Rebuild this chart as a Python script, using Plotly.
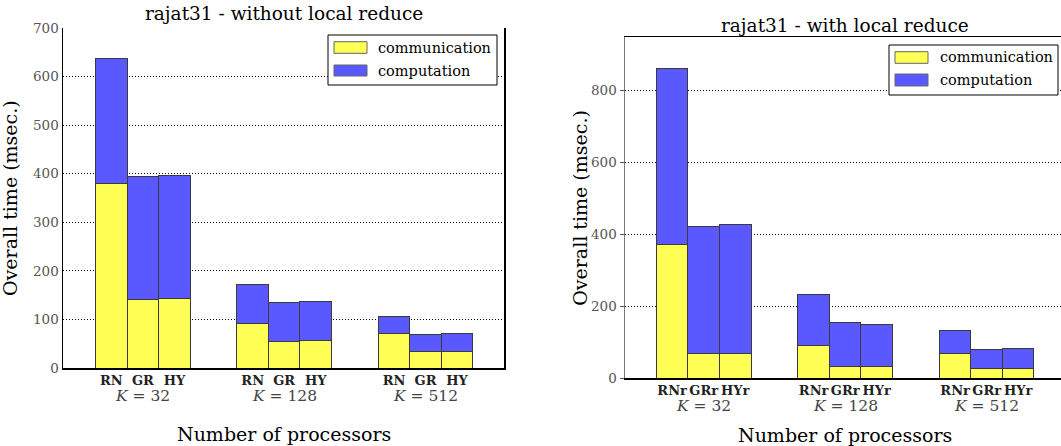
import plotly.graph_objects as go

W, H = 1061, 446

# ---------------- data ----------------
group_labels = ["32", "128", "512"]
methods_left = ["RN", "GR", "HY"]
methods_right = ["RNr", "GRr", "HYr"]

# rows: K = 32, 128, 512 ; columns: RN, GR, HY
comm_left = [[380, 141, 144], [92, 54, 56], [71, 34, 34]]
comp_left = [[257, 254, 253], [79, 81, 81], [35, 36, 37]]

comm_right = [[373, 68, 68], [90, 33, 33], [70, 26, 26]]
comp_right = [[489, 354, 360], [144, 123, 117], [63, 55, 57]]

series_names = ["communication", "computation"]
title_left = "rajat31 - without local reduce"
title_right = "rajat31 - with local reduce"
y_title = "Overall time (msec.)"
x_title = "Number of processors"

# ---------------- style ----------------
YELLOW = "#ffff55"
BLUE = "#5959ff"
EDGE = "#3a3a3a"
FONT = "DejaVu Serif"
BW = 0.223
GRID_DASH = "1px,2px"


def px_x(x):
    return x / W


def px_y(y):
    return 1 - y / H


fig = go.Figure()


def add_panel(comm, comp, methods, xa, ya):
    xs, ticktext, cm, cp = [], [], [], []
    for gi in range(len(comm)):
        for mj in range(len(methods)):
            xs.append(gi + BW * (mj + 0.5))
            ticktext.append(methods[mj])
            cm.append(comm[gi][mj])
            cp.append(comp[gi][mj])
    fig.add_trace(go.Bar(x=xs, y=cm, width=BW, name=series_names[0],
                         marker=dict(color=YELLOW, line=dict(color=EDGE, width=1)),
                         xaxis=xa, yaxis=ya, showlegend=False, hoverinfo="skip"))
    fig.add_trace(go.Bar(x=xs, y=cp, width=BW, name=series_names[1],
                         marker=dict(color=BLUE, line=dict(color=EDGE, width=1)),
                         xaxis=xa, yaxis=ya, showlegend=False, hoverinfo="skip"))
    return xs, ticktext


xs_l, tt_l = add_panel(comm_left, comp_left, methods_left, "x", "y")
xs_r, tt_r = add_panel(comm_right, comp_right, methods_right, "x2", "y2")

# panel geometry (pixels)
L = dict(x0=63, x1=504, y0=28, y1=368)
R = dict(x0=625, x1=1061, y0=37.3, y1=378.3)

tickfont_x = dict(family=FONT, size=13, color="#222")
tickfont_y = dict(family=FONT, size=13.5, color="#555")

fig.update_layout(
    width=W, height=H, barmode="stack", bargap=0, hovermode=False,
    margin=dict(l=0, r=0, t=0, b=0, autoexpand=False),
    paper_bgcolor="white", plot_bgcolor="white",
    xaxis=dict(domain=[px_x(L["x0"]), px_x(L["x1"])], range=[-0.231, 2.890],
               tickvals=xs_l, ticktext=["<b>%s</b>" % t for t in tt_l], tickangle=0,
               tickfont=tickfont_x, ticks="", showgrid=False, zeroline=False,
               showline=True, linecolor="black", linewidth=1.5, anchor="y",
               automargin=False, ticklabelstandoff=0),
    yaxis=dict(domain=[px_y(L["y1"]), px_y(L["y0"])], range=[0, 700], dtick=100,
               tickfont=tickfont_y, ticks="", showgrid=True, gridcolor="black",
               griddash=GRID_DASH, gridwidth=1, zeroline=False,
               showline=True, linecolor="black", linewidth=1.5, mirror=True, anchor="x",
               automargin=False, ticklabelstandoff=0),
    xaxis2=dict(domain=[px_x(R["x0"]), 1.0], range=[-0.2215, 2.860],
                tickvals=xs_r, ticktext=["<b>%s</b>" % t for t in tt_r], tickangle=0,
                tickfont=tickfont_x, ticks="", showgrid=False, zeroline=False,
                showline=True, linecolor="black", linewidth=1.5, mirror=True, anchor="y2",
                automargin=False, ticklabelstandoff=0),
    yaxis2=dict(domain=[px_y(R["y1"]), px_y(R["y0"])], range=[0, 948.5],
                tickvals=[0, 200, 400, 600, 800],
                tickfont=tickfont_y, ticks="outside", ticklen=4, tickcolor="#555",
                showgrid=True, gridcolor="black", griddash=GRID_DASH, gridwidth=1,
                zeroline=False, showline=True, linecolor="#777", linewidth=1.5,
                anchor="x2", automargin=False),
)

ann = []
shapes = []


def add_text(text, x, y, size, color="black", xref="paper", xanchor="center", angle=0):
    ann.append(dict(text=text, x=x, y=y, xref=xref, yref="paper", showarrow=False,
                    xanchor=xanchor, yanchor="middle", textangle=angle,
                    font=dict(family=FONT, size=size, color=color)))


def panel_text(P, xa, xs, title, title_y, k_y, xt_y, ytitle_x, right_px):
    cx = px_x((P["x0"] + right_px) / 2)
    add_text(title, cx, px_y(title_y), 18.5)
    add_text(x_title, cx, px_y(xt_y), 19)
    add_text(y_title, px_x(ytitle_x), px_y((P["y0"] + P["y1"]) / 2), 19, angle=-90)
    for gi, g in enumerate(group_labels):
        add_text("<i>K</i> = %s" % g, xs[gi * 3 + 1], px_y(k_y), 15.5, color="#444", xref=xa)


panel_text(L, "x", xs_l, title_left, 14, 396, 434, 10, 504)
panel_text(R, "x2", xs_r, title_right, 25, 406, 435, 580, 1065)


def legend(bx0, by0, bx1, by1, sw_x0, sw_x1, rows, text_x):
    shapes.append(dict(type="rect", xref="paper", yref="paper",
                       x0=px_x(bx0), x1=px_x(bx1), y0=px_y(by1), y1=px_y(by0),
                       line=dict(color="black", width=1), fillcolor="white", layer="above"))
    for (ya, yb), col, name in zip(rows, [YELLOW, BLUE], series_names):
        shapes.append(dict(type="rect", xref="paper", yref="paper",
                           x0=px_x(sw_x0), x1=px_x(sw_x1), y0=px_y(yb), y1=px_y(ya),
                           line=dict(color="#666", width=1), fillcolor=col, layer="above"))
        add_text(name, px_x(text_x), px_y((ya + yb) / 2), 14.5, xanchor="left")


legend(328, 35, 497, 85, 334, 367, [(41.7, 53.3), (65, 76)], 376)
legend(889, 45, 1058, 95, 895, 928, [(51.7, 63.3), (74, 86)], 938)

fig.update_layout(annotations=ann, shapes=shapes)
fig.write_html("out.html", config={"displayModeBar": False, "staticPlot": True},
               post_script="document.body.style.margin='0';document.body.style.overflow='hidden';")
